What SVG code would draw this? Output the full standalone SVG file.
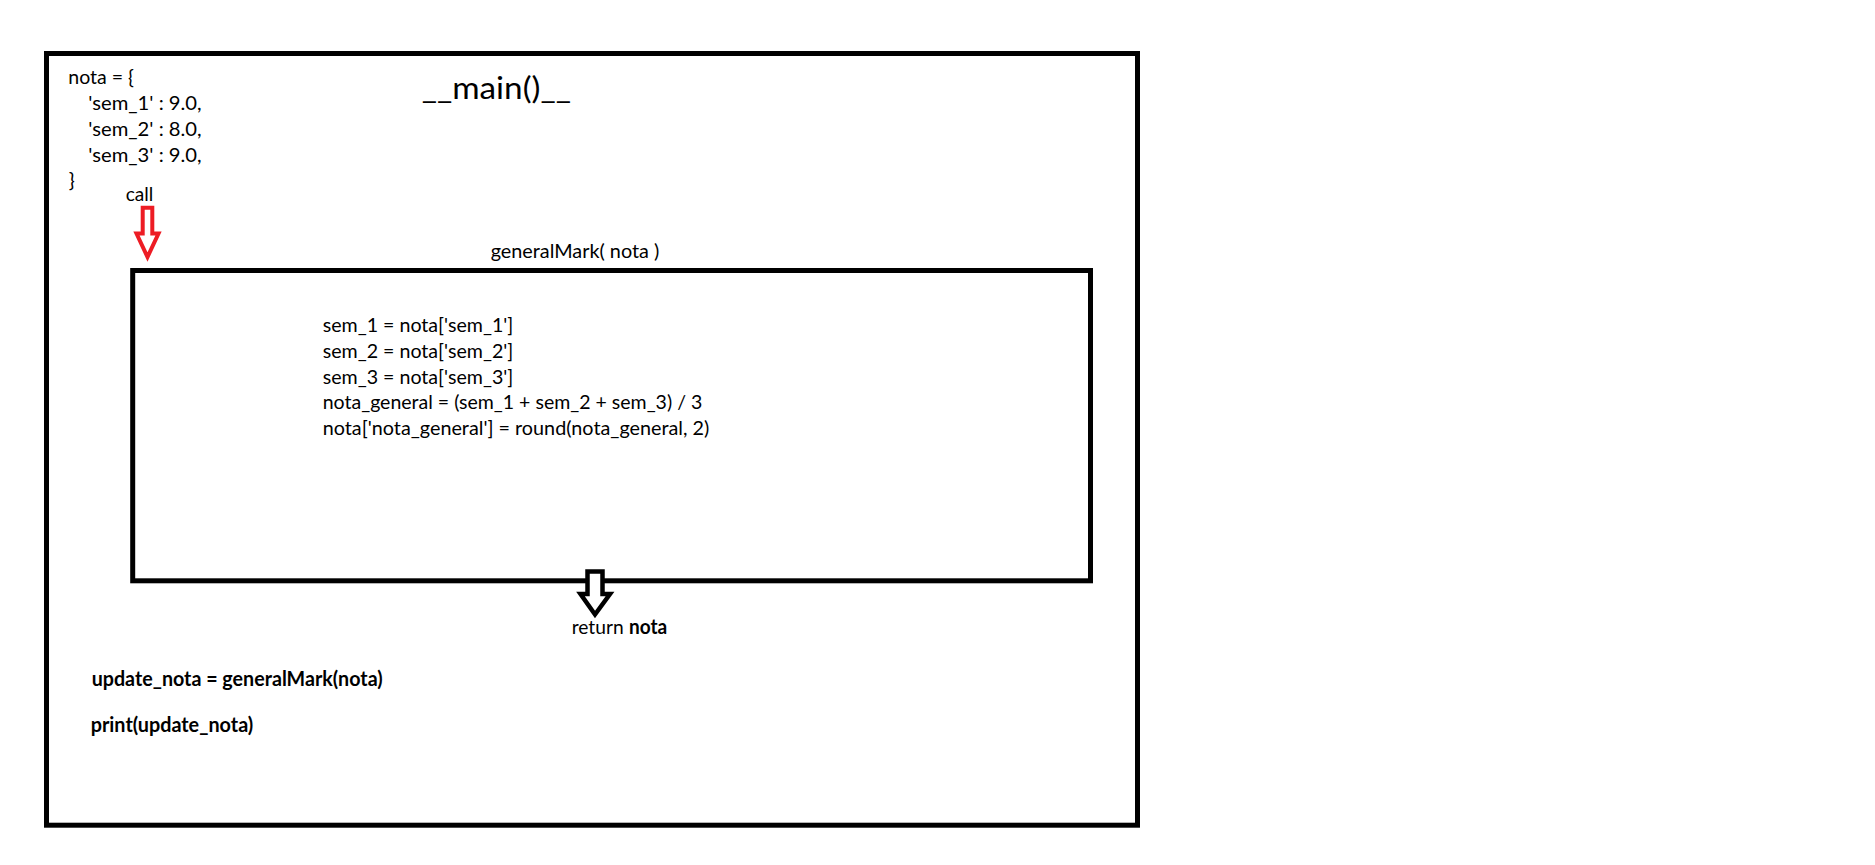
<svg xmlns="http://www.w3.org/2000/svg" width="1875" height="865" viewBox="0 0 1875 865">
  <style>
    .frame { fill: none; stroke: #000; stroke-width: 5; }
    .t { font-family: Lato, "Open Sans", "Liberation Sans", sans-serif; font-size: 20px; fill: #000; }
    .b { font-weight: bold; }
    .title { font-family: Lato, "Open Sans", "Liberation Sans", sans-serif; font-size: 31px; fill: #000; }
    .arrow-red { fill: #fff; stroke: #ED1C24; stroke-width: 4; stroke-linejoin: miter; }
    .arrow-black { fill: #fff; stroke: #000; stroke-width: 4.5; stroke-linejoin: miter; }
  </style>
  <rect width="1875" height="865" fill="#fff"/>

  <g id="main-frame">
    <rect class="frame" x="46.5" y="53.5" width="1091" height="771.7"/>
    <text class="title" x="421.7" y="99.3" textLength="149.3" lengthAdjust="spacingAndGlyphs">__main()__</text>
  </g>

  <g id="nota-dict">
    <text class="t" x="68.3" y="84.3" textLength="65.7" lengthAdjust="spacingAndGlyphs">nota = {</text>
    <text class="t" x="88.3" y="110" textLength="113.4" lengthAdjust="spacingAndGlyphs">'sem_1' : 9.0,</text>
    <text class="t" x="88.3" y="136" textLength="113.4" lengthAdjust="spacingAndGlyphs">'sem_2' : 8.0,</text>
    <text class="t" x="88.3" y="162" textLength="113.4" lengthAdjust="spacingAndGlyphs">'sem_3' : 9.0,</text>
    <text class="t" x="68.7" y="187">}</text>
  </g>

  <g id="generalMark">
    <text class="t" x="490.7" y="258.3" textLength="168.6" lengthAdjust="spacingAndGlyphs">generalMark( nota )</text>
    <rect class="frame" x="132.7" y="270.5" width="957.8" height="310.3"/>
    <text class="t" x="322.7" y="332" textLength="190.6" lengthAdjust="spacingAndGlyphs">sem_1 = nota['sem_1']</text>
    <text class="t" x="322.7" y="357.8" textLength="190.6" lengthAdjust="spacingAndGlyphs">sem_2 = nota['sem_2']</text>
    <text class="t" x="322.7" y="383.6" textLength="190.6" lengthAdjust="spacingAndGlyphs">sem_3 = nota['sem_3']</text>
    <text class="t" x="322.7" y="409.4" textLength="379.6" lengthAdjust="spacingAndGlyphs">nota_general = (sem_1 + sem_2 + sem_3) / 3</text>
    <text class="t" x="322.7" y="435.2" textLength="386.6" lengthAdjust="spacingAndGlyphs">nota['nota_general'] = round(nota_general, 2)</text>
  </g>

  <g id="connectors">
    <g id="call-arrow">
      <text class="t" x="125.7" y="200.7" textLength="27.6" lengthAdjust="spacingAndGlyphs">call</text>
      <path class="arrow-red" d="M142.7,207.7 H152.3 V233.5 H158.5 L147.5,257 L136.5,233.5 H142.7 Z"/>
    </g>
    <g id="return-arrow">
      <path class="arrow-black" d="M587.5,571.6 H602.5 V594 H610 L595,614.5 L580.5,594 H587.5 Z"/>
      <text class="t" y="634.3"><tspan x="571.7" textLength="52" lengthAdjust="spacingAndGlyphs">return</tspan><tspan class="b" x="629" textLength="38.3" lengthAdjust="spacingAndGlyphs">nota</tspan></text>
    </g>
  </g>

  <g id="main-code">
    <text class="t b" x="91.7" y="686" textLength="291" lengthAdjust="spacingAndGlyphs">update_nota = generalMark(nota)</text>
    <text class="t b" x="90.7" y="731.7" textLength="162.6" lengthAdjust="spacingAndGlyphs">print(update_nota)</text>
  </g>
</svg>
